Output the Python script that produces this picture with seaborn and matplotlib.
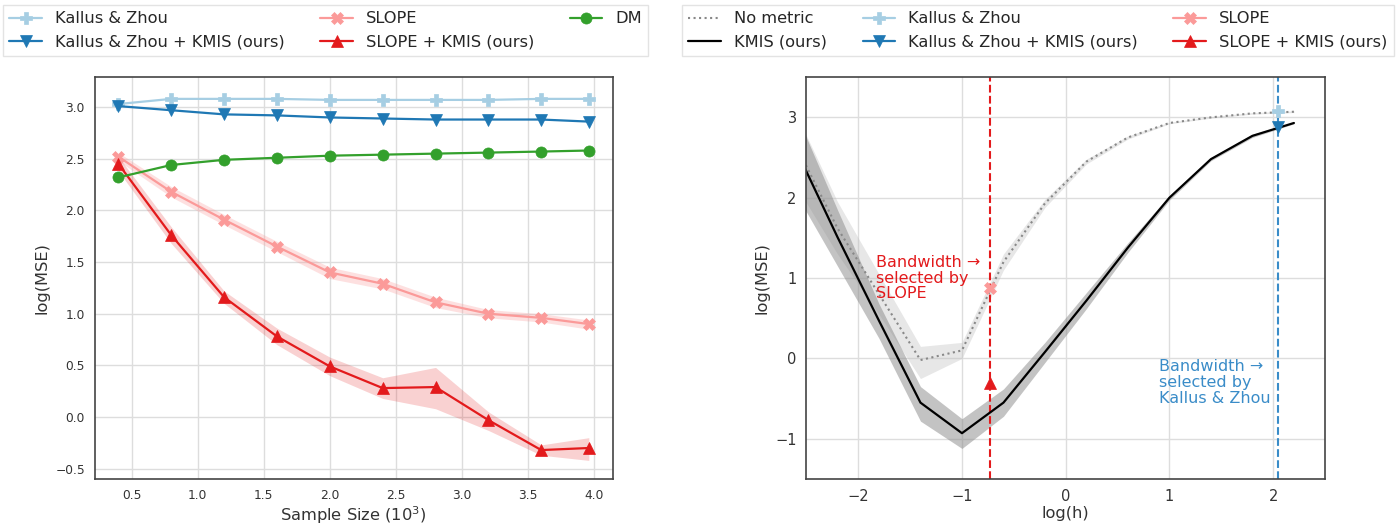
import matplotlib
matplotlib.use('Agg')
import matplotlib.pyplot as plt
import seaborn as sns

sns.set_style('whitegrid')

# dados do painel esquerdo (tamanho da amostra em 10^3)
n_samples = [0.4, 0.8, 1.2, 1.6, 2.0, 2.4, 2.8, 3.2, 3.6, 3.96]
kz = [3.03, 3.08, 3.08, 3.08, 3.07, 3.07, 3.07, 3.07, 3.08, 3.08]
kz_kmis = [3.01, 2.97, 2.93, 2.92, 2.90, 2.89, 2.88, 2.88, 2.88, 2.86]
dm = [2.32, 2.44, 2.49, 2.51, 2.53, 2.54, 2.55, 2.56, 2.57, 2.58]
slope = [2.52, 2.18, 1.91, 1.65, 1.40, 1.29, 1.11, 1.00, 0.96, 0.90]
slope_lo = [2.48, 2.13, 1.86, 1.60, 1.34, 1.24, 1.06, 0.96, 0.92, 0.85]
slope_hi = [2.56, 2.23, 1.96, 1.70, 1.45, 1.34, 1.16, 1.04, 1.00, 0.94]
slope_kmis = [2.45, 1.76, 1.16, 0.78, 0.49, 0.28, 0.29, -0.03, -0.32, -0.30]
slope_kmis_lo = [2.38, 1.68, 1.10, 0.70, 0.40, 0.18, 0.08, -0.13, -0.37, -0.42]
slope_kmis_hi = [2.52, 1.84, 1.22, 0.86, 0.58, 0.38, 0.48, 0.05, -0.27, -0.20]

# dados do painel direito (log da largura de banda)
log_h = [-2.6, -2.2, -1.8, -1.4, -1.0, -0.6, -0.2, 0.2, 0.6, 1.0, 1.4, 1.8, 2.2]
no_metric = [2.65, 1.62, 0.80, -0.02, 0.10, 1.20, 1.93, 2.45, 2.75, 2.93, 3.00, 3.05, 3.07]
no_metric_lo = [2.15, 1.30, 0.55, -0.25, 0.00, 1.10, 1.88, 2.42, 2.73, 2.92, 2.99, 3.04, 3.06]
no_metric_hi = [3.05, 1.95, 1.05, 0.15, 0.20, 1.30, 1.98, 2.48, 2.77, 2.94, 3.01, 3.06, 3.08]
kmis = [2.60, 1.51, 0.47, -0.55, -0.93, -0.55, 0.08, 0.72, 1.38, 2.00, 2.48, 2.77, 2.93]
kmis_lo = [2.05, 1.15, 0.25, -0.78, -1.12, -0.72, -0.05, 0.62, 1.32, 1.97, 2.46, 2.75, 2.92]
kmis_hi = [3.05, 1.85, 0.68, -0.35, -0.75, -0.38, 0.20, 0.82, 1.44, 2.03, 2.50, 2.79, 2.94]
h_slope = -0.73
h_kz = 2.05
sel_kz = 3.08
sel_kz_kmis = 2.88
sel_slope = 0.88
sel_slope_kmis = -0.30

pal = sns.color_palette('Paired')
c_kz, c_kzk = pal[0], pal[1]
c_dm = pal[3]
c_sl, c_slk = pal[4], pal[5]

fig = plt.figure(figsize=(13.98, 5.24), dpi=100)
ax1 = fig.add_axes([0.0677, 0.0859, 0.3705, 0.7668])
ax2 = fig.add_axes([0.5768, 0.0859, 0.3710, 0.7668])

def linha(ax, x, y, cor, mk, lab, ms=8):
    sns.lineplot(x=x, y=y, ax=ax, color=cor, marker=mk, markersize=ms,
                 markeredgecolor=cor, markeredgewidth=0.5, linewidth=1.6,
                 label=lab, legend=False)

# painel esquerdo
ax1.fill_between(n_samples, slope_lo, slope_hi, color=c_sl, alpha=0.3, lw=0)
ax1.fill_between(n_samples, slope_kmis_lo, slope_kmis_hi, color=c_slk, alpha=0.2, lw=0)
linha(ax1, n_samples, kz, c_kz, 'P', 'Kallus & Zhou')
linha(ax1, n_samples, kz_kmis, c_kzk, 'v', 'Kallus & Zhou + KMIS (ours)')
linha(ax1, n_samples, slope, c_sl, 'X', 'SLOPE')
linha(ax1, n_samples, slope_kmis, c_slk, '^', 'SLOPE + KMIS (ours)')
linha(ax1, n_samples, dm, c_dm, 'o', 'DM')
ax1.set_xlim(0.22, 4.14)
ax1.set_ylim(-0.6, 3.29)
ax1.set_xticks([0.5, 1.0, 1.5, 2.0, 2.5, 3.0, 3.5, 4.0])
ax1.set_xlabel('Sample Size ($10^3$)', fontsize=11.7, color='#333333', labelpad=2)
ax1.set_ylabel('log(MSE)', fontsize=11.7, color='#333333')
ax1.tick_params(labelsize=8.8, colors='#333333')

h1, l1 = ax1.get_legend_handles_labels()
fig.legend(h1, l1, loc='upper left', bbox_to_anchor=(0.0021, 0.9905),
           ncol=3, fontsize=11.7, frameon=True, borderaxespad=0,
           labelspacing=0.5, columnspacing=2.2, edgecolor='#dddddd', fancybox=False)

# painel direito
ax2.fill_between(log_h, no_metric_lo, no_metric_hi, color='#bbbbbb', alpha=0.35, lw=0)
ax2.fill_between(log_h, kmis_lo, kmis_hi, color='#888888', alpha=0.5, lw=0)
sns.lineplot(x=log_h, y=no_metric, ax=ax2, color='#888888', linestyle=':',
             linewidth=1.5, label='No metric', legend=False)
sns.lineplot(x=log_h, y=kmis, ax=ax2, color='black', linewidth=1.6,
             label='KMIS (ours)', legend=False)
ax2.axvline(h_slope, color=c_slk, ls='--', lw=1.5, zorder=1)
ax2.axvline(h_kz, color='#3a8cc8', ls='--', lw=1.5, zorder=1)
linha(ax2, [h_kz], [sel_kz], c_kz, 'P', 'Kallus & Zhou')
linha(ax2, [h_kz], [sel_kz_kmis], c_kzk, 'v', 'Kallus & Zhou + KMIS (ours)')
linha(ax2, [h_slope], [sel_slope], c_sl, 'X', 'SLOPE')
linha(ax2, [h_slope], [sel_slope_kmis], c_slk, '^', 'SLOPE + KMIS (ours)')
ax2.text(-1.83, 1.0, 'Bandwidth →\nselected by\nSLOPE', color=c_slk, fontsize=11.5,
         ha='left', va='center', linespacing=1.05)
ax2.text(0.9, -0.3, 'Bandwidth →\nselected by\nKallus & Zhou', color='#3a8cc8', fontsize=11.5,
         ha='left', va='center', linespacing=1.05)
ax2.set_xlim(-2.5, 2.5)
ax2.set_ylim(-1.5, 3.5)
ax2.set_xticks([-2, -1, 0, 1, 2])
ax2.set_yticks([-1, 0, 1, 2, 3])
ax2.set_xlabel('log(h)', fontsize=11.7, color='#333333', labelpad=2)
ax2.set_ylabel('log(MSE)', fontsize=11.7, color='#333333')
ax2.tick_params(labelsize=10.5, colors='#333333')

h2, l2 = ax2.get_legend_handles_labels()
fig.legend(h2, l2, loc='upper left', bbox_to_anchor=(0.4878, 0.9905),
           ncol=3, fontsize=11.7, frameon=True, borderaxespad=0,
           labelspacing=0.5, columnspacing=2.2, edgecolor='#dddddd', fancybox=False)

for ax in (ax1, ax2):
    for s in ax.spines.values():
        s.set_color('#444444')
        s.set_linewidth(1.2)
    ax.grid(color='#dddddd', lw=1)

fig.savefig('out.png', dpi=100)
